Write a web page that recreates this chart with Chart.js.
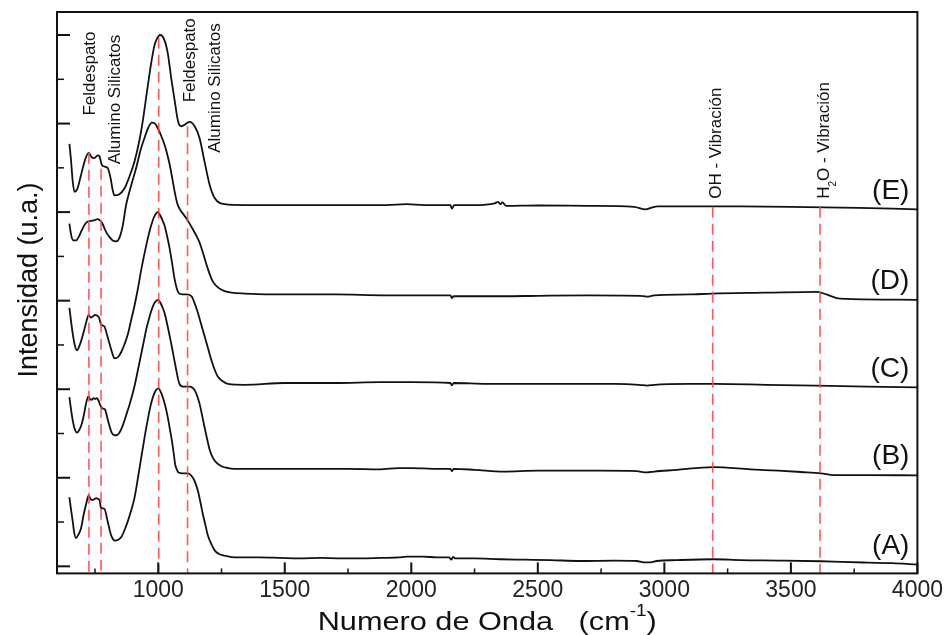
<!DOCTYPE html>
<html>
<head>
<meta charset="utf-8">
<title>Espectros FTIR</title>
<script src="https://cdn.jsdelivr.net/npm/chart.js@4.4.1/dist/chart.umd.min.js"></script>
<style>
  html, body { margin: 0; padding: 0; background: #fff; }
  #wrap { width: 946px; height: 635px; }
</style>
</head>
<body>
<div id="wrap"><canvas id="ftirChart" width="946" height="635"></canvas></div>
<script>
const FONT = '"Liberation Sans", Arial, sans-serif';

// spectra: [wavenumber, intensity offset]
const curveA = [
  [649, 0.78], [655, 0.65], [662, 0.51], [668, 0.38], [675, 0.32], [685, 0.36], [695, 0.43], [705, 0.58],
  [715, 0.70], [725, 0.80], [733, 0.76], [741, 0.75], [748, 0.76], [755, 0.77], [762, 0.76], [768, 0.75],
  [774, 0.66], [787, 0.65], [800, 0.51], [814, 0.35], [830, 0.29], [842, 0.30], [854, 0.33], [867, 0.41],
  [880, 0.51], [893, 0.63], [906, 0.77], [920, 1.00], [933, 1.23], [953, 1.57], [972, 1.84], [989, 1.98],
  [1001, 2.01], [1010, 1.97], [1018, 1.91], [1028, 1.81], [1038, 1.68], [1046, 1.55], [1054, 1.42],
  [1061, 1.28], [1067, 1.15], [1074, 1.09], [1080, 1.06], [1097, 1.05], [1117, 1.05], [1137, 1.00],
  [1147, 0.94], [1157, 0.85], [1167, 0.72], [1177, 0.58], [1187, 0.46], [1196, 0.35], [1210, 0.25],
  [1223, 0.18], [1240, 0.14], [1262, 0.12], [1290, 0.105], [1315, 0.10], [1400, 0.10], [1480, 0.095],
  [1560, 0.09], [1640, 0.095], [1720, 0.09], [1800, 0.09], [1877, 0.095], [1950, 0.10], [1982, 0.11],
  [2047, 0.11], [2100, 0.10], [2150, 0.10], [2158, 0.075], [2165, 0.105], [2175, 0.09], [2250, 0.09],
  [2351, 0.08], [2450, 0.075], [2550, 0.07], [2668, 0.06], [2800, 0.065], [2890, 0.06], [2920, 0.045],
  [2945, 0.045], [2970, 0.06], [3050, 0.07], [3195, 0.08], [3300, 0.07], [3450, 0.065], [3619, 0.057],
  [3700, 0.05], [3805, 0.042], [3900, 0.035], [4000, 0.02]
];

const curveB = [
  [649, 1.91], [655, 1.78], [662, 1.65], [670, 1.55], [679, 1.51], [688, 1.54], [698, 1.61], [707, 1.72],
  [715, 1.84], [724, 1.92], [730, 1.89], [737, 1.88], [744, 1.90], [751, 1.89], [758, 1.90], [764, 1.87],
  [774, 1.80], [782, 1.78], [790, 1.77], [797, 1.70], [803, 1.63], [816, 1.51], [827, 1.48], [837, 1.48],
  [847, 1.51], [857, 1.57], [867, 1.65], [876, 1.73], [886, 1.82], [896, 1.92], [906, 2.03], [920, 2.22],
  [933, 2.40], [943, 2.54], [953, 2.68], [963, 2.79], [972, 2.88], [981, 2.95], [989, 2.99], [1000, 3.01],
  [1008, 2.98], [1016, 2.93], [1025, 2.86], [1038, 2.70], [1051, 2.52], [1061, 2.37], [1071, 2.22],
  [1078, 2.12], [1084, 2.06], [1097, 2.03], [1110, 2.03], [1124, 2.03], [1134, 2.02], [1144, 1.99],
  [1153, 1.93], [1163, 1.84], [1173, 1.71], [1183, 1.57], [1193, 1.44], [1203, 1.32], [1215, 1.23],
  [1230, 1.17], [1250, 1.13], [1276, 1.11], [1335, 1.10], [1450, 1.10], [1600, 1.10], [1750, 1.10],
  [1877, 1.095], [1950, 1.11], [2000, 1.11], [2100, 1.10], [2155, 1.10], [2160, 1.075], [2168, 1.10],
  [2250, 1.09], [2364, 1.07], [2500, 1.08], [2668, 1.08], [2747, 1.08], [2890, 1.075], [2930, 1.06],
  [2960, 1.07], [3050, 1.09], [3150, 1.115], [3195, 1.12], [3341, 1.095], [3450, 1.08], [3540, 1.065],
  [3619, 1.05], [3670, 1.03], [3800, 1.03], [4000, 1.027]
];

const curveC = [
  [649, 2.92], [655, 2.78], [662, 2.63], [670, 2.50], [679, 2.44], [690, 2.50], [701, 2.60], [715, 2.75],
  [725, 2.84], [733, 2.81], [741, 2.82], [750, 2.84], [759, 2.83], [766, 2.81], [774, 2.73], [780, 2.72],
  [787, 2.71], [797, 2.62], [807, 2.52], [817, 2.42], [827, 2.35], [840, 2.36], [854, 2.42], [867, 2.51],
  [880, 2.62], [893, 2.78], [906, 2.94], [920, 3.14], [933, 3.35], [953, 3.63], [972, 3.85], [986, 3.96],
  [998, 4.00], [1010, 3.95], [1018, 3.90], [1025, 3.85], [1035, 3.73], [1045, 3.59], [1055, 3.42],
  [1065, 3.24], [1073, 3.14], [1080, 3.09], [1095, 3.07], [1111, 3.07], [1131, 3.05], [1144, 2.97],
  [1157, 2.86], [1170, 2.73], [1183, 2.60], [1197, 2.46], [1210, 2.33], [1223, 2.22], [1236, 2.14],
  [1255, 2.09], [1276, 2.06], [1342, 2.05], [1500, 2.07], [1700, 2.07], [1877, 2.08], [2000, 2.08],
  [2155, 2.07], [2160, 2.045], [2168, 2.07], [2300, 2.06], [2450, 2.06], [2650, 2.06], [2800, 2.06],
  [2900, 2.05], [2932, 2.04], [2960, 2.05], [3100, 2.06], [3200, 2.06], [3400, 2.05], [3600, 2.04],
  [3800, 2.03], [4000, 2.02]
];

const curveD = [
  [649, 3.87], [656, 3.74], [665, 3.68], [675, 3.68], [686, 3.72], [697, 3.79], [710, 3.86], [720, 3.89],
  [735, 3.90], [748, 3.91], [760, 3.92], [768, 3.91], [778, 3.88], [787, 3.82], [797, 3.76], [807, 3.72],
  [820, 3.68], [835, 3.67], [848, 3.72], [860, 3.85], [873, 4.08], [893, 4.30], [913, 4.50], [930, 4.70],
  [946, 4.84], [960, 4.95], [975, 5.01], [987, 5.00], [998, 4.95], [1012, 4.86], [1025, 4.76], [1035, 4.66],
  [1045, 4.54], [1055, 4.39], [1065, 4.23], [1075, 4.10], [1084, 4.04], [1098, 3.98], [1111, 3.93],
  [1124, 3.87], [1140, 3.79], [1153, 3.72], [1163, 3.66], [1180, 3.51], [1196, 3.36], [1215, 3.22],
  [1236, 3.15], [1260, 3.11], [1289, 3.09], [1342, 3.08], [1500, 3.07], [1700, 3.07], [1900, 3.06],
  [2000, 3.06], [2155, 3.06], [2160, 3.03], [2168, 3.05], [2364, 3.05], [2500, 3.055], [2700, 3.06],
  [2905, 3.055], [2930, 3.045], [2960, 3.06], [3100, 3.07], [3189, 3.08], [3400, 3.09], [3605, 3.10],
  [3640, 3.07], [3680, 3.03], [3725, 3.02], [4000, 3.01]
];

const curveE = [
  [649, 4.77], [655, 4.60], [662, 4.35], [669, 4.23], [680, 4.26], [695, 4.42], [712, 4.60], [725, 4.67],
  [737, 4.62], [748, 4.61], [760, 4.64], [768, 4.63], [775, 4.55], [781, 4.52], [800, 4.50], [812, 4.38],
  [820, 4.25], [827, 4.19], [845, 4.20], [867, 4.27], [886, 4.40], [906, 4.57], [925, 4.80], [939, 5.03],
  [955, 5.35], [972, 5.68], [985, 5.88], [992, 5.94], [1008, 6.00], [1025, 5.94], [1038, 5.79],
  [1051, 5.52], [1065, 5.26], [1078, 5.03], [1091, 4.97], [1111, 5.00], [1124, 5.02], [1144, 4.97],
  [1163, 4.84], [1183, 4.57], [1203, 4.31], [1223, 4.16], [1262, 4.09], [1342, 4.08], [1500, 4.08],
  [1700, 4.08], [1900, 4.08], [1982, 4.09], [2050, 4.08], [2155, 4.08], [2160, 4.04], [2170, 4.08],
  [2250, 4.08], [2330, 4.10], [2343, 4.115], [2352, 4.09], [2360, 4.11], [2375, 4.07], [2500, 4.075],
  [2700, 4.07], [2880, 4.06], [2925, 4.03], [2950, 4.05], [2972, 4.065], [3100, 4.065], [3300, 4.065],
  [3500, 4.06], [3700, 4.05], [3900, 4.04], [4000, 4.03]
];

const sampleNames = ['(A)', '(B)', '(C)', '(D)', '(E)'];
const sampleCurves = [curveA, curveB, curveC, curveD, curveE];

// red dashed band markers
const markerWaves = [726, 774, 1002, 1116, 3191, 3615];
const markerTops = [4.67, 4.49, 5.97, 4.97, 4.06, 4.06];

const bandTexts = ['Feldespato', 'Alumino Silicatos', 'Feldespato', 'Alumino Silicatos', 'OH - Vibración', 'H_{2}O - Vibración'];
const bandTextWaves = [725, 824, 1121, 1220, 3198, 3627];
const bandTextStarts = [5.09, 4.54, 5.24, 4.67, 4.15, 4.15];

const xMajorTicks = [1000, 1500, 2000, 2500, 3000, 3500, 4000];
const xMinorTicks = [750, 1250, 1750, 2250, 2750, 3250, 3750];
const yMajorTicks = [0, 1, 2, 3, 4, 5, 6];
const yMinorTicks = [0.5, 1.5, 2.5, 3.5, 4.5, 5.5];

const X_MIN = 600, X_MAX = 4000, Y_MIN = -0.08, Y_MAX = 6.26;

// split "a_{b}c^{d}" into plain / subscript / superscript pieces
function richPieces(str) {
  const out = [];
  const re = /([_^])\{([^}]*)\}/g;
  let last = 0, m;
  while ((m = re.exec(str))) {
    if (m.index > last) out.push({ text: str.slice(last, m.index), shift: 0 });
    out.push({ text: m[2], shift: m[1] === '^' ? -1 : 1 });
    last = re.lastIndex;
  }
  if (last < str.length) out.push({ text: str.slice(last), shift: 0 });
  return out;
}

function drawRich(ctx, str, size, x, y, align, subDy, supDy) {
  const pieces = richPieces(str);
  const small = Math.round(size * 0.6);
  const widths = pieces.map(p => {
    ctx.font = `${p.shift ? small : size}px ${FONT}`;
    return ctx.measureText(p.text).width;
  });
  const total = widths.reduce((s, w) => s + w, 0);
  let cx = align === 'center' ? x - total / 2 : x;
  ctx.textAlign = 'left';
  ctx.textBaseline = 'alphabetic';
  pieces.forEach((p, i) => {
    ctx.font = `${p.shift ? small : size}px ${FONT}`;
    const dy = p.shift === 1 ? subDy : p.shift === -1 ? supDy : 0;
    ctx.fillText(p.text, cx, y + dy);
    cx += widths[i];
  });
}

function tickLine(ctx, x1, y1, x2, y2, w) {
  ctx.lineWidth = w;
  ctx.beginPath();
  ctx.moveTo(x1, y1);
  ctx.lineTo(x2, y2);
  ctx.stroke();
}

const decorations = {
  id: 'decorations',
  afterDatasetsDraw(chart) {
    const { ctx, chartArea: a, scales: { x, y } } = chart;
    ctx.save();
    ctx.strokeStyle = '#111';
    ctx.fillStyle = '#111';

    // frame
    ctx.lineWidth = 2;
    ctx.strokeRect(a.left, a.top, a.right - a.left, a.bottom - a.top);

    // inward ticks
    xMajorTicks.forEach(v => { const px = x.getPixelForValue(v); tickLine(ctx, px, a.bottom, px, a.bottom - 11, 2); });
    xMinorTicks.forEach(v => { const px = x.getPixelForValue(v); tickLine(ctx, px, a.bottom, px, a.bottom - 5, 1.5); });
    yMajorTicks.forEach(v => { const py = y.getPixelForValue(v); tickLine(ctx, a.left, py, a.left + 13, py, 2); });
    yMinorTicks.forEach(v => { const py = y.getPixelForValue(v); tickLine(ctx, a.left, py, a.left + 7, py, 1.5); });

    // sample labels at the right end of each spectrum
    ctx.font = `28px ${FONT}`;
    ctx.textAlign = 'right';
    ctx.textBaseline = 'middle';
    sampleCurves.forEach((c, i) => {
      const lastVal = c[c.length - 1][1];
      ctx.fillText(sampleNames[i], x.getPixelForValue(X_MAX) - 8, y.getPixelForValue(lastVal + 0.21));
    });

    // vertical band names
    const bandSize = 17;
    bandTexts.forEach((t, i) => {
      ctx.save();
      ctx.translate(x.getPixelForValue(bandTextWaves[i]), y.getPixelForValue(bandTextStarts[i]));
      ctx.rotate(-Math.PI / 2);
      drawRich(ctx, t, bandSize, 0, bandSize * 0.36, 'left', bandSize * 0.4, 0);
      ctx.restore();
    });

    // axis titles
    const midX = (a.left + a.right) / 2;
    ctx.save();
    ctx.translate(midX, 630);
    ctx.scale(1.18, 1);
    drawRich(ctx, 'Numero de Onda   (cm^{-1})', 26, 0, 0, 'center', 0, -14);
    ctx.restore();

    ctx.save();
    ctx.translate(27, 280);
    ctx.rotate(-Math.PI / 2);
    drawRich(ctx, 'Intensidad (u.a.)', 27, 0, 27 * 0.36, 'center', 0, 0);
    ctx.restore();

    ctx.restore();
  }
};

const markerSets = markerWaves.map((w, i) => ({
  label: 'marker ' + w,
  data: [{ x: w, y: markerTops[i] }, { x: w, y: Y_MIN }],
  borderColor: 'rgba(255, 70, 70, 0.9)',
  borderWidth: 1.6,
  borderDash: [11, 6],
  pointRadius: 0,
  fill: false
}));

const spectrumSets = sampleCurves.map((c, i) => ({
  label: sampleNames[i],
  data: c.map(([wn, v]) => ({ x: wn, y: v })),
  borderColor: '#111',
  borderWidth: 1.8,
  pointRadius: 0,
  cubicInterpolationMode: 'monotone',
  fill: false
}));

new Chart(document.getElementById('ftirChart').getContext('2d'), {
  type: 'line',
  data: { datasets: [...markerSets, ...spectrumSets] },
  options: {
    responsive: false,
    animation: false,
    devicePixelRatio: 1,
    events: [],
    layout: { padding: { left: 57, top: 12, right: 21, bottom: 28 } },
    plugins: { legend: { display: false }, tooltip: { enabled: false } },
    scales: {
      x: {
        type: 'linear',
        min: X_MIN,
        max: X_MAX,
        grid: { display: false, drawTicks: false },
        border: { display: false },
        afterBuildTicks: scale => { scale.ticks = xMajorTicks.map(v => ({ value: v })); },
        ticks: {
          padding: 3,
          color: '#222',
          font: { family: FONT, size: 23 },
          maxRotation: 0,
          callback: v => String(v)
        }
      },
      y: {
        type: 'linear',
        display: false,
        min: Y_MIN,
        max: Y_MAX
      }
    }
  },
  plugins: [decorations]
});
</script>
</body>
</html>
